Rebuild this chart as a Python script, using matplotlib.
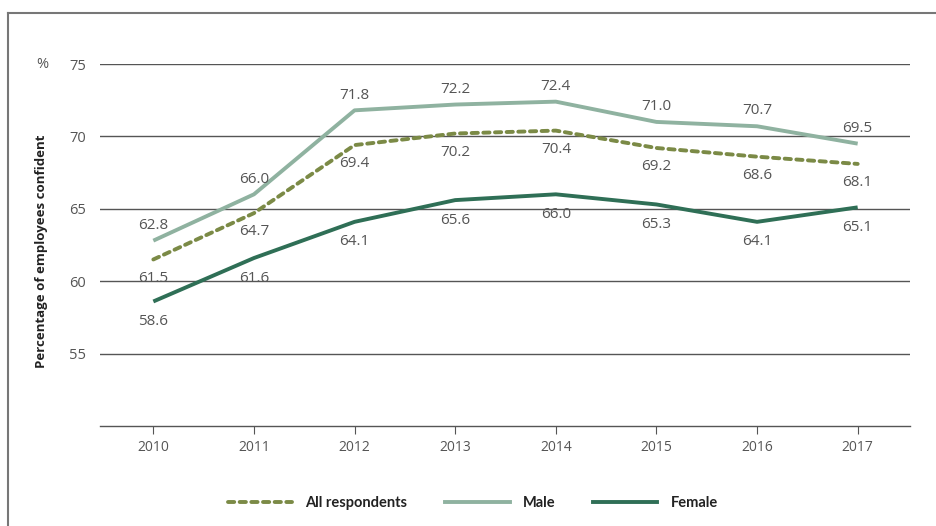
import matplotlib
matplotlib.use("Agg")
import matplotlib.pyplot as plt
from matplotlib.lines import Line2D

years = [2010, 2011, 2012, 2013, 2014, 2015, 2016, 2017]
all_resp = [61.5, 64.7, 69.4, 70.2, 70.4, 69.2, 68.6, 68.1]
male = [62.8, 66.0, 71.8, 72.2, 72.4, 71.0, 70.7, 69.5]
female = [58.6, 61.6, 64.1, 65.6, 66.0, 65.3, 64.1, 65.1]
yticks = [55, 60, 65, 70, 75]

plt.rcParams['font.family'] = ['Open Sans', 'DejaVu Sans']

W, H = 937, 526
fig = plt.figure(figsize=(W / 100, H / 100), dpi=100)
ax = fig.add_axes([100 / W, 1 - 426 / H, 810 / W, 362 / H])

c_all = '#7b8a46'
c_male = '#8fb2a0'
c_female = '#2f6f56'
c_text = '#555555'

ax.set_ylim(50, 75)
ax.set_xlim(2009.47, 2017.52)
for y in yticks:
    ax.axhline(y, color='#555555', lw=1.0, zorder=1)

ax.plot(years, male, color=c_male, lw=2.8, solid_capstyle='butt', zorder=3, label='Male')
ax.plot(years, all_resp, color=c_all, lw=2.8, linestyle=(0, (1.6, 1.4)),
        dash_capstyle='round', zorder=4, label='All respondents')
ax.plot(years, female, color=c_female, lw=2.8, solid_capstyle='butt', zorder=3, label='Female')

for x, v in zip(years, male):
    ax.annotate(f"{v:.1f}", (x, v), xytext=(0, 11), textcoords='offset points',
                ha='center', va='center', color=c_text, fontsize=11)
for x, v in zip(years, all_resp):
    ax.annotate(f"{v:.1f}", (x, v), xytext=(0, -13.5), textcoords='offset points',
                ha='center', va='center', color=c_text, fontsize=11)
for x, v in zip(years, female):
    ax.annotate(f"{v:.1f}", (x, v), xytext=(0, -14.5), textcoords='offset points',
                ha='center', va='center', color=c_text, fontsize=11)

ax.set_yticks(yticks)
ax.set_yticklabels([str(t) for t in yticks], color=c_text, fontsize=10.5)
ax.tick_params(axis='y', length=0, pad=10)
ax.set_xticks(years)
ax.set_xticklabels([str(y) for y in years], color=c_text, fontsize=10)
ax.tick_params(axis='x', length=6, width=0.8, color='#555555', pad=4, direction='out')

for s in ['top', 'right', 'left']:
    ax.spines[s].set_visible(False)
ax.spines['bottom'].set_color('#555555')
ax.spines['bottom'].set_linewidth(1.0)

fig.text(42 / W, 1 - 64 / H, '%', ha='center', va='center', color=c_text, fontsize=10.5)
fig.text(42 / W, 1 - 251 / H, 'Percentage of employees confident', rotation=90,
         ha='center', va='center', fontsize=9.5, fontweight='bold', color='#222222')

handles = [
    Line2D([], [], color=c_all, lw=2.8, linestyle=(0, (1.6, 1.4)), dash_capstyle='round'),
    Line2D([], [], color=c_male, lw=2.8),
    Line2D([], [], color=c_female, lw=2.8),
]
leg = fig.legend(handles, ['All respondents', 'Male', 'Female'], loc='center',
                 bbox_to_anchor=(473 / W, 1 - 503 / H), ncol=3, frameon=False,
                 handlelength=4.4, columnspacing=2.6, handletextpad=0.9,
                 prop={'family': ['Lato', 'DejaVu Sans'], 'weight': 'bold', 'size': 10.5})
for t in leg.get_texts():
    t.set_color('#222222')

# outer frame
fig.add_artist(Line2D([8 / W, 8 / W], [0, 1 - 13 / H], color='#777777', lw=1.5,
                      transform=fig.transFigure))
fig.add_artist(Line2D([8 / W, 1], [1 - 13 / H, 1 - 13 / H], color='#777777', lw=1.5,
                      transform=fig.transFigure))

fig.savefig('out.png', dpi=100)
